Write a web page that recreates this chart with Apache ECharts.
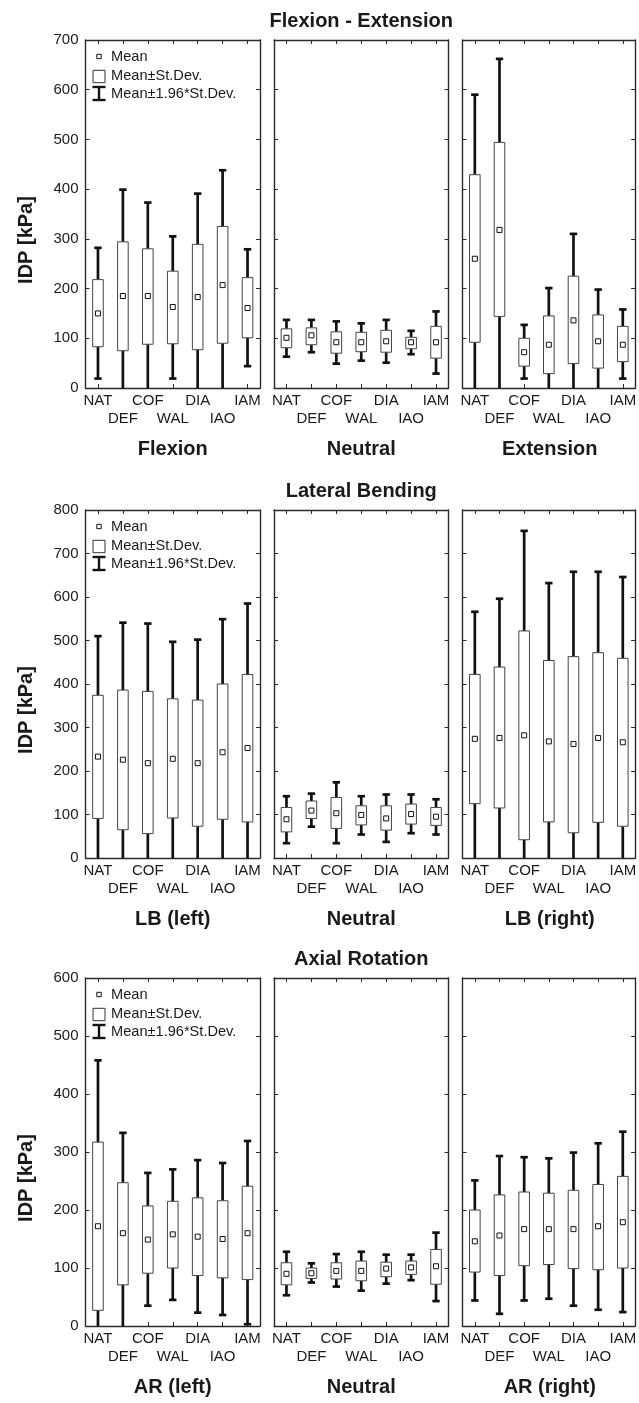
<!DOCTYPE html>
<html>
<head>
<meta charset="utf-8">
<script src="https://cdn.jsdelivr.net/npm/echarts@6/dist/echarts.min.js"></script>
<style>
html,body{margin:0;padding:0;background:#fff;}
#chart{width:639px;height:1403px;}
</style>
</head>
<body>
<div id="chart"></div>
<script>
// ---- data: each item = [mean-1.96SD, mean-SD, mean, mean+SD, mean+1.96SD] (kPa) ----
const categories = ['NAT', 'DEF', 'COF', 'WAL', 'DIA', 'IAO', 'IAM'];
const sectionTitles = ['Flexion - Extension', 'Lateral Bending', 'Axial Rotation'];
const panelTitles = [
  ['Flexion', 'Neutral', 'Extension'],
  ['LB (left)', 'Neutral', 'LB (right)'],
  ['AR (left)', 'Neutral', 'AR (right)']
];
const yMaxes = [700, 800, 600];
const yStep = 100;
const yAxisName = 'IDP [kPa]';
const legendLabels = ['Mean', 'Mean\u00b1St.Dev.', 'Mean\u00b11.96*St.Dev.'];

const feFlexion = [
  [19, 83, 150, 218, 282], [-30, 75, 185, 294, 399], [-5, 88, 185, 280, 373],
  [19, 89, 163, 235, 305], [-25, 77, 183, 289, 391], [-24, 90, 207, 325, 438],
  [44, 101, 161, 222, 279]
];
const feNeutral = [
  [63, 81, 101, 119, 137], [72, 87, 106, 121, 137], [49, 70, 92, 113, 134],
  [55, 73, 92, 112, 130], [51, 72, 94, 116, 137], [68, 79, 92, 102, 115],
  [29, 60, 92, 124, 154]
];
const feExtension = [
  [-70, 92, 260, 429, 590], [-23, 144, 318, 494, 662], [19, 44, 72, 100, 127],
  [-27, 29, 87, 145, 201], [-37, 49, 136, 225, 310], [-10, 40, 94, 147, 198],
  [19, 53, 87, 124, 158]
];
const lbLeft = [
  [-45, 91, 233, 374, 510], [-90, 65, 226, 386, 541], [-100, 56, 218, 383, 539],
  [-40, 92, 228, 366, 497], [-65, 73, 218, 363, 502], [-60, 89, 243, 400, 549],
  [-80, 83, 253, 422, 585]
];
const lbNeutral = [
  [34, 60, 89, 116, 142], [72, 91, 109, 131, 148], [34, 68, 103, 139, 174],
  [54, 76, 99, 120, 142], [37, 64, 91, 120, 146], [57, 78, 101, 124, 146],
  [54, 75, 95, 116, 135]
];
const lbRight = [
  [-16, 125, 274, 422, 566], [-40, 115, 276, 439, 596], [-190, 42, 282, 522, 752],
  [-100, 83, 268, 454, 632], [-135, 58, 262, 463, 658], [-105, 82, 276, 472, 658],
  [-115, 73, 266, 459, 646]
];
const arLeft = [
  [-115, 27, 172, 317, 458], [-12, 71, 160, 247, 333], [35, 91, 149, 207, 264],
  [45, 100, 158, 215, 270], [23, 87, 154, 221, 286], [19, 83, 150, 216, 281],
  [3, 80, 160, 241, 319]
];
const arNeutral = [
  [53, 71, 90, 109, 128], [75, 82, 91, 100, 108], [68, 81, 95, 109, 124],
  [61, 78, 95, 112, 128], [73, 85, 99, 110, 123], [79, 89, 101, 112, 123],
  [43, 72, 103, 132, 161]
];
const arRight = [
  [44, 93, 146, 200, 251], [21, 87, 156, 226, 293], [44, 104, 167, 231, 291],
  [47, 106, 167, 229, 289], [35, 99, 167, 234, 299], [28, 97, 172, 244, 315],
  [24, 100, 179, 258, 335]
];
const panelData = [
  [feFlexion, feNeutral, feExtension],
  [lbLeft, lbNeutral, lbRight],
  [arLeft, arNeutral, arRight]
];

// ---- layout ----
const FONT = "'Liberation Sans', Arial, Helvetica, sans-serif";
const panelLeft = [85.5, 274, 462.5];
const panelWidth = 174.5;
const sectionTop = [40, 510, 978];
const panelHeight = 348;
const frameColor = '#2a2a2a';
const textColor = '#1a1a1a';

const grids = [], xAxes = [], yAxes = [], series = [], graphics = [];

function renderItem(params, api) {
  const i = api.value(0);
  const v = [api.value(1), api.value(2), api.value(3), api.value(4), api.value(5)];
  const cs = params.coordSys;
  const bottom = cs.y + cs.height;
  const topY = cs.y;
  const x = api.coord([i, 0])[0];
  const py = val => api.coord([i, val])[1];
  const yLo = py(v[0]), yQ1 = py(v[1]), yM = py(v[2]), yQ3 = py(v[3]), yHi = py(v[4]);
  const wStyle = { stroke: '#111', lineWidth: 2.7 };
  const ch = [];
  ch.push({ type: 'line', shape: { x1: x, y1: yQ1, x2: x, y2: Math.min(yLo, bottom) }, style: wStyle });
  if (yLo <= bottom) ch.push({ type: 'line', shape: { x1: x - 3.7, y1: yLo, x2: x + 3.7, y2: yLo }, style: wStyle });
  ch.push({ type: 'line', shape: { x1: x, y1: yQ3, x2: x, y2: Math.max(yHi, topY) }, style: wStyle });
  if (yHi >= topY) ch.push({ type: 'line', shape: { x1: x - 3.7, y1: yHi, x2: x + 3.7, y2: yHi }, style: wStyle });
  const bTop = Math.max(yQ3, topY), bBot = Math.min(yQ1, bottom);
  ch.push({ type: 'rect', shape: { x: x - 5.3, y: bTop, width: 10.6, height: bBot - bTop }, style: { fill: '#fff', stroke: '#444', lineWidth: 1 } });
  ch.push({ type: 'rect', shape: { x: x - 2.5, y: yM - 2.5, width: 5, height: 5 }, style: { fill: '#fff', stroke: '#111', lineWidth: 1 } });
  return { type: 'group', children: ch };
}

for (let s = 0; s < 3; s++) {
  for (let p = 0; p < 3; p++) {
    const g = s * 3 + p;
    grids.push({ left: panelLeft[p], top: sectionTop[s], width: panelWidth, height: panelHeight, containLabel: false });
    const tick = { show: true, inside: true, length: 4, alignWithLabel: true, interval: 0, lineStyle: { color: frameColor, width: 1 } };
    const line = { show: true, onZero: false, lineStyle: { color: frameColor, width: 1.4 } };
    xAxes.push({
      type: 'category', gridIndex: g, data: categories, position: 'bottom', boundaryGap: true,
      axisLine: line, axisTick: tick,
      axisLabel: {
        show: true, interval: 0, margin: 4, fontFamily: FONT, fontSize: 15, lineHeight: 18, color: textColor,
        formatter: (val, idx) => (idx % 2 === 1 ? '\n' + val : val)
      },
      splitLine: { show: false }
    });
    xAxes.push({
      type: 'category', gridIndex: g, data: categories, position: 'top', boundaryGap: true,
      axisLine: line, axisTick: tick, axisLabel: { show: false }, splitLine: { show: false }
    });
    const ytick = { show: true, inside: true, length: 4, lineStyle: { color: frameColor, width: 1 } };
    yAxes.push({
      type: 'value', gridIndex: g, min: 0, max: yMaxes[s], interval: yStep, position: 'left',
      axisLine: line, axisTick: ytick,
      axisLabel: { show: p === 0, margin: 7, fontFamily: FONT, fontSize: 15, color: textColor },
      splitLine: { show: false }
    });
    yAxes.push({
      type: 'value', gridIndex: g, min: 0, max: yMaxes[s], interval: yStep, position: 'right',
      axisLine: line, axisTick: ytick, axisLabel: { show: false }, splitLine: { show: false }
    });
    series.push({
      type: 'custom', xAxisIndex: 2 * g, yAxisIndex: 2 * g,
      renderItem: renderItem, silent: true, animation: false,
      encode: { x: 0, y: [1, 2, 3, 4, 5] },
      data: panelData[s][p].map((d, i) => [i].concat(d))
    });
    // panel subtitle
    graphics.push({
      type: 'text', x: panelLeft[p] + panelWidth / 2, y: sectionTop[s] + panelHeight + 61,
      style: { text: panelTitles[s][p], font: 'bold 20px ' + FONT, fill: textColor, align: 'center', verticalAlign: 'middle' }
    });
  }
  // section title
  graphics.push({
    type: 'text', x: panelLeft[1] + panelWidth / 2, y: sectionTop[s] - 19,
    style: { text: sectionTitles[s], font: 'bold 20px ' + FONT, fill: textColor, align: 'center', verticalAlign: 'middle' }
  });
  // y axis name
  graphics.push({
    type: 'text', x: 26, y: sectionTop[s] + panelHeight / 2 + 26, rotation: Math.PI / 2,
    style: { text: yAxisName, font: 'bold 20px ' + FONT, fill: textColor, align: 'center', verticalAlign: 'middle' }
  });
  // legend (inside first panel)
  const t = sectionTop[s];
  const sx = 99;
  graphics.push({ type: 'rect', shape: { x: sx - 2.2, y: t + 16.5 - 2.2, width: 4.4, height: 4.4 }, style: { fill: '#fff', stroke: '#111', lineWidth: 1 } });
  graphics.push({ type: 'rect', shape: { x: sx - 6, y: t + 36.5 - 6.2, width: 12, height: 12.4 }, style: { fill: '#fff', stroke: '#333', lineWidth: 1 } });
  graphics.push({ type: 'line', shape: { x1: sx, y1: t + 47, x2: sx, y2: t + 60 }, style: { stroke: '#111', lineWidth: 2.4 } });
  graphics.push({ type: 'line', shape: { x1: sx - 6.5, y1: t + 47, x2: sx + 6.5, y2: t + 47 }, style: { stroke: '#111', lineWidth: 2.4 } });
  graphics.push({ type: 'line', shape: { x1: sx - 6.5, y1: t + 60, x2: sx + 6.5, y2: t + 60 }, style: { stroke: '#111', lineWidth: 2.4 } });
  [17.3, 36, 54.3].forEach((dy, k) => {
    graphics.push({
      type: 'text', x: 111, y: t + dy,
      style: { text: legendLabels[k], font: '14.6px ' + FONT, fill: textColor, align: 'left', verticalAlign: 'middle' }
    });
  });
}

const chart = echarts.init(document.getElementById('chart'), null, { renderer: 'canvas' });
chart.setOption({
  animation: false,
  backgroundColor: '#fff',
  grid: grids,
  xAxis: xAxes,
  yAxis: yAxes,
  series: series,
  graphic: { elements: graphics }
});
</script>
</body>
</html>
